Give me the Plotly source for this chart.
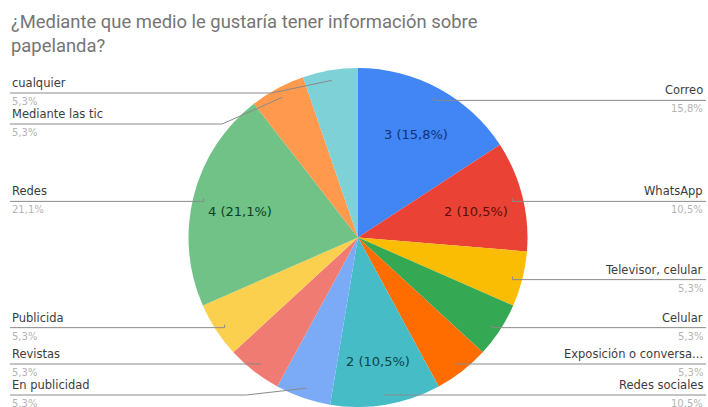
import math
import plotly.graph_objects as go

# Survey answers (clockwise from 12 o'clock)
categories = [
    "Correo", "WhatsApp", "Televisor, celular", "Celular",
    "Exposición o conversa...", "Redes sociales", "En publicidad",
    "Revistas", "Publicida", "Redes", "Mediante las tic", "cualquier",
]
counts = [3, 2, 1, 1, 1, 2, 1, 1, 1, 4, 1, 1]
slice_colors = [
    "#4285F4", "#EA4335", "#FBBC04", "#34A853", "#FF6D01", "#46BDC6",
    "#7BAAF7", "#F07B72", "#FCD04F", "#71C287", "#FF994D", "#7ED1D7",
]
inside_text_colors = [
    "#0f3378", "#5e0d07", "#000000", "#000000", "#000000", "#0a4549",
    "#000000", "#000000", "#000000", "#0c4220", "#000000", "#000000",
]
title_text = "¿Mediante que medio le gustaría tener información sobre<br>papelanda?"

W, H = 708, 407
PIE_TOP = 68                        # top edge of the pie in pixels
CX = 358
R = (H - PIE_TOP) / 2
CY = PIE_TOP + R
TITLE_FONT = "Roboto, Arial, sans-serif"
LABEL_FONT = "DejaVu Sans, Verdana, sans-serif"


def px(x):
    return x / W


def py(y):
    return 1 - y / H


def pct(v):
    return f"{v / sum(counts) * 100:.1f}".replace(".", ",") + "%"


fig = go.Figure(go.Pie(
    labels=categories,
    values=counts,
    sort=False,
    direction="clockwise",
    rotation=0,
    marker=dict(colors=slice_colors, line=dict(width=0)),
    textinfo="none",
    hoverinfo="skip",
    showlegend=False,
    domain=dict(x=[px(CX - R), px(CX + R)], y=[0, py(PIE_TOP)]),
))

annotations = []
shapes = []

# mid-angle of each slice (degrees clockwise from top)
total = sum(counts)
mids = []
acc = 0
for v in counts:
    mids.append((acc + v / 2) / total * 360)
    acc += v


def polar(angle, r):
    a = math.radians(angle)
    return CX + r * math.sin(a), CY - r * math.cos(a)


# value labels inside the larger slices
for i, v in enumerate(counts):
    if v >= 2:
        x, y = polar(mids[i], 0.72 * R)
        annotations.append(dict(
            x=px(x), y=py(y + 4), xref="paper", yref="paper",
            xanchor="center", yanchor="middle",
            text=f"{v} ({pct(v)})", showarrow=False,
            font=dict(family=LABEL_FONT, size=13, color=inside_text_colors[i]),
        ))

# outside labels with leader lines, split by side
TOP, BOTTOM, GAP = 93, 395, 31
for side in ("right", "left"):
    idx = [i for i in range(len(counts)) if (mids[i] < 180) == (side == "right")]
    anchors = {i: polar(mids[i], 0.94 * R) for i in idx}
    order = sorted(idx, key=lambda i: anchors[i][1])
    ys = [min(max(anchors[i][1] + 3, TOP), BOTTOM) for i in order]
    for k in range(1, len(ys)):
        ys[k] = max(ys[k], ys[k - 1] + GAP)
    ys[-1] = min(ys[-1], BOTTOM)
    for k in range(len(ys) - 2, -1, -1):
        ys[k] = min(ys[k], ys[k + 1] - GAP)
    for i, ly in zip(order, ys):
        ax, ay = anchors[i]
        if side == "right":
            ex = ax + 60 if abs(ly - ay) > 4 else ax
            edge, tx, anchor = W - 2, W - 3, "right"
        else:
            ex = ax - 60 if abs(ly - ay) > 4 else ax
            edge, tx, anchor = 10, 10, "left"
        path = f"M {px(ax)},{py(ay)} L {px(ex)},{py(ly)} L {px(edge)},{py(ly)}"
        shapes.append(dict(type="path", path=path, xref="paper", yref="paper",
                           line=dict(color="#8a8a8a", width=1)))
        annotations.append(dict(
            x=px(tx), y=py(ly - 1), xref="paper", yref="paper",
            xanchor=anchor, yanchor="bottom", showarrow=False,
            text=categories[i],
            font=dict(family=LABEL_FONT, size=11.5, color="#3c3c3c"),
        ))
        annotations.append(dict(
            x=px(tx), y=py(ly + 1), xref="paper", yref="paper",
            xanchor=anchor, yanchor="top", showarrow=False,
            text=pct(counts[i]),
            font=dict(family=LABEL_FONT, size=10, color="#b4b4b4"),
        ))

annotations.append(dict(
    x=px(9), y=py(9), xref="paper", yref="paper",
    xanchor="left", yanchor="top", align="left", showarrow=False,
    text=title_text,
    font=dict(family=TITLE_FONT, size=18.4, color="#757575"),
))

fig.update_layout(
    width=W, height=H,
    margin=dict(l=0, r=0, t=0, b=0),
    paper_bgcolor="white",
    plot_bgcolor="white",
    annotations=annotations,
    shapes=shapes,
)

fig.write_html("out.html")
